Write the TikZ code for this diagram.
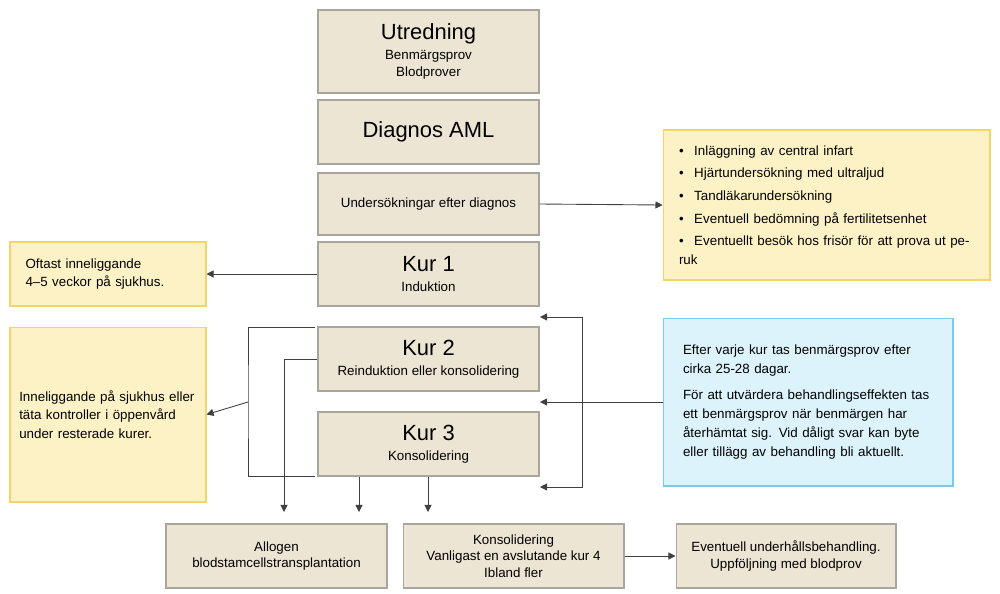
\documentclass[tikz,border=0pt]{standalone}
\usepackage{fontspec}
\setmainfont{Liberation Sans}
\usetikzlibrary{arrows.meta}
\definecolor{beige}{HTML}{EDE5D3}
\definecolor{beigeline}{HTML}{A9A59C}
\definecolor{pale}{HTML}{FDF2C6}
\definecolor{paleline}{HTML}{F6D36B}
\definecolor{sky}{HTML}{DDF3FC}
\definecolor{skyline}{HTML}{7ACBE6}
\tikzset{
  >={Triangle[length=4pt,width=4pt]},
  conn/.style = {->, draw=black!75, line width=0.5pt},
  line/.style = {draw=black!75, line width=0.5pt},
  step box/.style = {draw=beigeline, fill=beige, line width=0.6pt, align=center,
    minimum width=4.42cm, minimum height=1.28cm, inner sep=0pt,
    font=\fontsize{7.6}{9.5}\selectfont},
  note/.style = {draw=paleline, fill=pale, line width=0.6pt, align=left,
    inner sep=0pt, font=\fontsize{7.6}{10.5}\selectfont},
  info/.style = {draw=skyline, fill=sky, line width=0.6pt, align=left,
    inner sep=0pt, font=\fontsize{7.6}{10.8}\selectfont},
}
\newcommand{\steptitle}[1]{{\fontsize{12.5}{13}\selectfont #1}}
\begin{document}
\begin{tikzpicture}[x=0.02cm, y=-0.02cm]
  \useasboundingbox (0,0) rectangle (1000,593);
  % main column
  \node [step box, minimum height=1.66cm] (utr) at (428.5,51.5)
    {\steptitle{Utredning}\\[2pt]Benmärgsprov\\Blodprover};
  \node [step box] (diag) at (428.5,132) {\steptitle{Diagnos AML}};
  \node [step box, minimum height=1.24cm] (und) at (428.5,204)
    {Undersökningar efter diagnos};
  \node [step box] (kur1) at (428.5,274)
    {\steptitle{Kur 1}\\[2pt]Induktion};
  \node [step box] (kur2) at (428.5,359)
    {\steptitle{Kur 2}\\[2pt]Reinduktion eller konsolidering};
  \node [step box] (kur3) at (428.5,444)
    {\steptitle{Kur 3}\\[2pt]Konsolidering};
  % bottom row
  \node [step box] (allo) at (276.5,556)
    {Allogen\\blodstamcellstransplantation};
  \node [step box] (kons) at (513.5,556)
    {Konsolidering\\Vanligast en avslutande kur 4\\Ibland fler};
  \node [step box, minimum width=4.4cm] (uph) at (786,556)
    {Eventuell underhållsbehandling.\\Uppföljning med blodprov};
  % notes
  \node [note, minimum width=6.54cm, minimum height=3cm, text width=5.9cm] (list) at (826.5,205)
    {\textbullet\hspace{6pt}Inläggning av central infart\\[2.4pt]
     \textbullet\hspace{6pt}Hjärtundersökning med ultraljud\\[2.4pt]
     \textbullet\hspace{6pt}Tandläkarundersökning\\[2.4pt]
     \textbullet\hspace{6pt}Eventuell bedömning på fertilitetsenhet\\[2.4pt]
     \textbullet\hspace{6pt}Eventuellt besök hos frisör för att prova ut peruk};
  \node [note, minimum width=3.92cm, minimum height=1.28cm, text width=3.3cm] (oft) at (108,274)
    {Oftast inneliggande\\4–5 veckor på sjukhus.};
  \node [note, minimum width=3.92cm, minimum height=3.5cm, text width=3.55cm] (inne) at (108,414.5)
    {Inneliggande på sjukhus eller\\täta kontroller i öppenvård\\under resterade kurer.};
  \node [info, minimum width=5.8cm, minimum height=3.36cm, text width=5.0cm] (eft) at (808,402)
    {Efter varje kur tas benmärgsprov efter\\cirka 25-28 dagar.\\[4pt]
     För att utvärdera behandlingseffekten tas\\ett benmärgsprov när benmärgen har\\
     återhämtat sig. Vid dåligt svar kan byte\\eller tillägg av behandling bli aktuellt.};
  % helper points
  \coordinate (lt) at (315,327);
  \coordinate (lb) at (315,476);
  \coordinate (lm) at (248,402);
  \coordinate (rt) at (540,317);
  \coordinate (rb) at (540,487);
  \coordinate (rm) at (540,402);
  \coordinate (rj) at (582,402);
  \coordinate (d1) at (284,512);
  \coordinate (d2) at (359,512);
  \coordinate (d3) at (428,512);
  % edges
  \draw [conn] (und.east) -- (list.west);
  \draw [conn] (kur1.west) -- (oft.east);
  \draw [line] (lt) -| (lm) |- (lb);
  \draw [conn] (lm) -- (inne.east);
  \draw [conn] (kur2.west) -| (d1);
  \draw [conn] (kur3.south -| d2) -- (d2);
  \draw [conn] (kur3.south -| d3) -- (d3);
  \draw [conn] (rj) |- (rt);
  \draw [conn] (rj) |- (rb);
  \draw [conn] (eft.west) -- (rm);
  \draw [conn] (kons.east) -- (uph.west);
\end{tikzpicture}
\end{document}
